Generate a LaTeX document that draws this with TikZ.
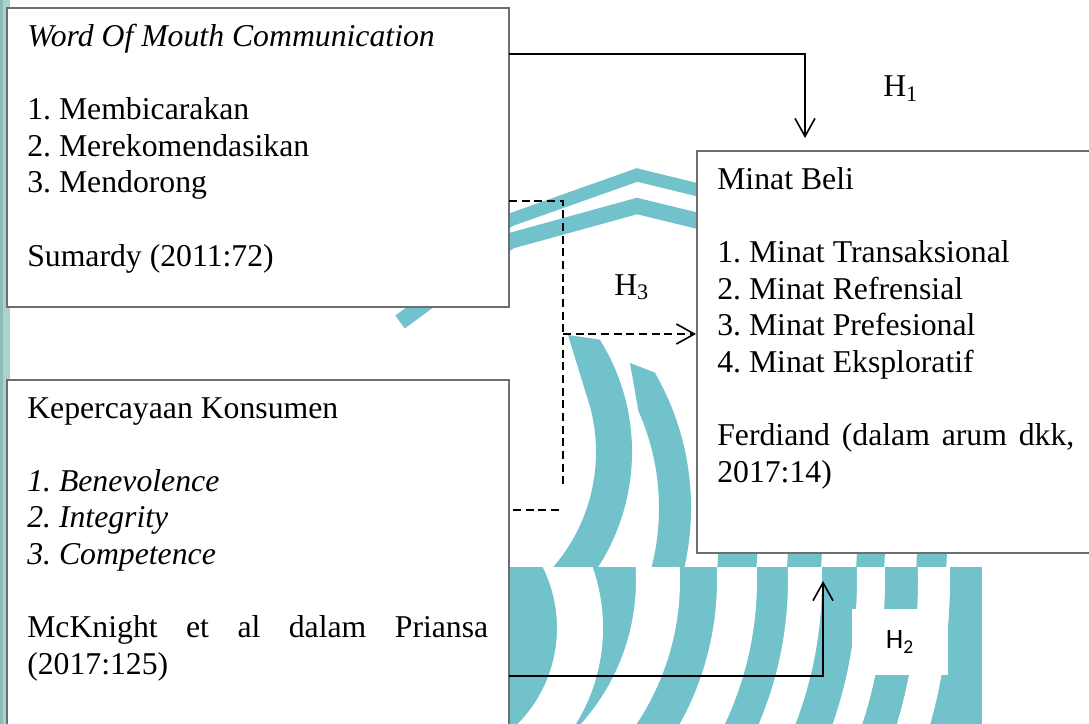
\documentclass[tikz,border=0pt]{standalone}
\usepackage{fontspec}
\setmainfont{Liberation Serif}
\newfontfamily\calibri{Carlito}
\usepackage{xcolor}
\usetikzlibrary{arrows.meta,positioning,calc}
\definecolor{wmteal}{RGB}{114,194,203}
\definecolor{stripteal}{RGB}{172,210,206}
\definecolor{stripdark}{RGB}{140,188,184}
\definecolor{boxgray}{RGB}{110,110,110}
\frenchspacing
\tikzset{
  box/.style={rectangle, draw=boxgray, line width=1.1pt, fill=white, anchor=north west, inner sep=0pt, outer sep=0pt},
  txt/.style={anchor=base west, align=left, inner sep=0pt, font=\fontsize{23.8}{27.4}\selectfont},
  hyp/.style={anchor=base west, inner sep=0pt, font=\fontsize{23.8}{27.4}\selectfont},
  link/.style={line width=1.2pt, -{Straight Barb[length=13.5pt, width=15pt]}},
  hdash/.style={line width=1.2pt, dash pattern=on 6pt off 3.5pt},
}

\begin{document}
\begin{tikzpicture}[x=0.75pt, y=-0.75pt]
\useasboundingbox (0,0) rectangle (1089,724);
\clip (0,0) rectangle (1089,724);

\fill[stripteal] (0,0) rectangle (10,724);
\fill[stripdark] (0,0) rectangle (3,724);
\draw[wmteal, line width=9.75pt] (440,268) -- (510,220) -- (637,175) -- (760,205);
\draw[wmteal, line width=12pt] (400,322) -- (510,241) -- (637,206) -- (760,236);
\begin{scope}
\clip (0,0) rectangle (1089,567);
\fill[wmteal] (568,335) -- ($(420,452)+(-32:212)$) arc[start angle=-32, end angle=120, radius=212] -- ($(420,452)+(120:176)$) arc[start angle=120, end angle=-15, radius=176] -- cycle;
\fill[wmteal] (630,363) -- ($(420,508)+(-30:271)$) arc[start angle=-30, end angle=120, radius=271] -- ($(420,508)+(120:239)$) arc[start angle=120, end angle=-24, radius=239] -- cycle;
\foreach \r/\w in {318/29.25, 385/25.5, 451/21, 512/22.5}
  \draw[wmteal, line width=\w pt] ($(420,540)+(-15:\r)$) arc[start angle=-15, end angle=60, radius=\r];
\end{scope}
\begin{scope}
\clip (380,567) rectangle (982,760);
\fill[wmteal] (380,567) rectangle (982,760);
\draw[white, line width=34.5pt] (420,628) circle[radius=160];
\foreach \r/\w in {238/33, 317/30, 385/25.5, 451/21, 514/24}
  \draw[white, line width=\w pt] (420,580) circle[radius=\r];
\end{scope}

\node[box, minimum width=376.5pt, minimum height=224.25pt] (wom) at (7,8) {};
\node[box, minimum width=376.5pt, minimum height=300pt] (trust) at (7,380) {};
\node[box, minimum width=315pt, minimum height=301.5pt] (minat) at (697,151) {};

\node[txt] (womtext) at (27,266) {\textit{Word Of Mouth Communication}\\[27.4pt]
1. Membicarakan\\ 2. Merekomendasikan\\ 3. Mendorong\\[27.4pt]
Sumardy (2011:72)};
\node[txt] (trusttext) at (27,674) {Kepercayaan Konsumen\\[27.4pt]
\textit{1. Benevolence}\\ \textit{2. Integrity}\\ \textit{3. Competence}\\[27.4pt]
\makebox[345.75pt][s]{McKnight et al dalam Priansa}\\ (2017:125)};
\node[txt] (minattext) at (717,482) {Minat Beli\\[27.4pt]
1. Minat Transaksional\\ 2. Minat Refrensial\\ 3. Minat Prefesional\\ 4. Minat Eksploratif\\[27.4pt]
\makebox[267.75pt][s]{Ferdiand (dalam arum dkk,}\\ 2017:14)};

\draw[link] ($(wom.north east)+(0,46)$) -| ($(minat.north west)+(108,-13)$);
\draw[hdash] ($(wom.north east)+(0,193)$) -| ($(wom.north east)+(54,480)$);
\draw[hdash, -{Straight Barb[length=13.5pt, width=15pt]}] ($(wom.north east)+(54,326)$) -- ($(minat.north west)+(-1,183)$);
\draw[hdash] ($(trust.north east)+(4,130)$) -- ($(trust.north east)+(54,130)$);
\draw[link] ($(trust.north east)+(0,296)$) -| ($(minat.south west)+(126,28)$);

\node[hyp] (h1) at (883,97) {H\textsubscript{1}};
\node[hyp] (h3) at (614,295) {H\textsubscript{3}};
\node[fill=white, minimum width=72pt, minimum height=49.5pt, inner sep=0pt, font={\calibri\fontsize{21}{25}\selectfont}] (h2) at (900,642) {H\textsubscript{2}};
\end{tikzpicture}
\end{document}
